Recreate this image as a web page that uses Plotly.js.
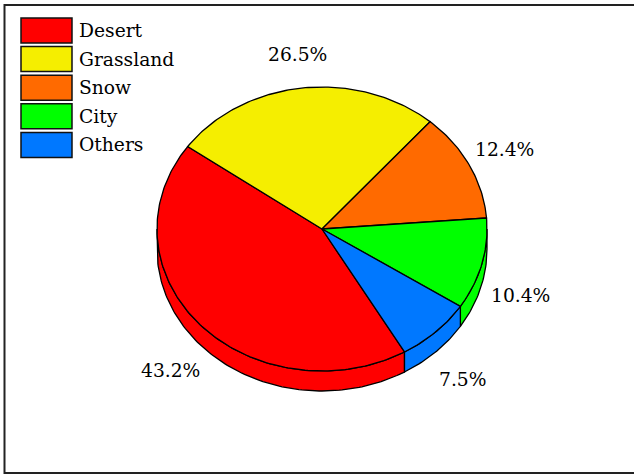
<!DOCTYPE html>
<html>
<head>
<meta charset="utf-8">
<script src="https://cdn.plot.ly/plotly-3.0.1.min.js"></script>
<style>html,body{margin:0;padding:0;background:#fff;}#chart{width:634px;height:475px;}</style>
</head>
<body>
<div id="chart"></div>
<script>
// ---- data ----
const categories = ["Desert", "Grassland", "Snow", "City", "Others"];
const values = [43.2, 26.5, 12.4, 10.4, 7.5];
const colors = ["#FF0000", "#F5EE00", "#FF6A00", "#00FF00", "#0078FF"];

// ---- geometry (layout constants) ----
const W = 634, H = 475;
const CX = 322, CY = 229, RX = 165, RY = 142, DEPTH = 20;
const START = 150;       // degrees clockwise from top where first slice begins
const FONT = "DejaVu Serif";
const FS = 18.7;

const total = values.reduce((a, b) => a + b, 0);
function pt(deg, dy) {
  const t = deg * Math.PI / 180;
  return [CX + RX * Math.sin(t), CY - RY * Math.cos(t) + (dy || 0)];
}
function arc(a0, a1, dy) {
  const n = Math.max(2, Math.ceil(Math.abs(a1 - a0) / 1));
  const xs = [], ys = [];
  for (let i = 0; i <= n; i++) {
    const p = pt(a0 + (a1 - a0) * i / n, dy);
    xs.push(p[0]); ys.push(p[1]);
  }
  return [xs, ys];
}

const walls = [];
const tops = [];
const annotations = [];
let acc = START;
values.forEach((v, i) => {
  const a0 = acc, a1 = acc + v / total * 360;
  acc = a1;
  [[90, 270], [450, 630]].forEach(([lo, hi]) => {
    const w0 = Math.max(a0, lo), w1 = Math.min(a1, hi);
    if (w1 > w0) {
      const top = arc(w0, w1, 0), bot = arc(w1, w0, DEPTH);
      walls.push({
        type: "scatter", mode: "lines", fill: "toself",
        x: top[0].concat(bot[0], [top[0][0]]),
        y: top[1].concat(bot[1], [top[1][0]]),
        fillcolor: colors[i], line: {color: "#000", width: 1.3},
        hoverinfo: "skip", showlegend: false
      });
    }
  });
  const a = arc(a0, a1, 0);
  tops.push({
    type: "scatter", mode: "lines", fill: "toself", name: categories[i],
    x: [CX].concat(a[0], [CX]), y: [CY].concat(a[1], [CY]),
    fillcolor: colors[i], line: {color: "#000", width: 1.3},
    hoverinfo: "skip", showlegend: false
  });
  const mid = (a0 + a1) / 2, t = mid * Math.PI / 180;
  const lp = pt(mid, 0);
  const lx = CX + (lp[0] - CX) * 1.24;
  const ly = CY + (lp[1] - CY) * 1.24 + (Math.cos(t) < 0 ? DEPTH + 3 : 0);
  annotations.push({
    x: lx, y: ly, xref: "x", yref: "y", showarrow: false,
    text: v.toFixed(1) + "%", font: {family: FONT, size: FS, color: "#000"},
    xanchor: "center", yanchor: "middle"
  });
});

const shapes = [];
categories.forEach((c, i) => {
  const y0 = 18 + i * 28.6;
  shapes.push({type: "rect", xref: "x", yref: "y", x0: 21, x1: 72, y0: y0, y1: y0 + 25,
    fillcolor: colors[i], line: {color: "#111", width: 1.5}});
  annotations.push({x: 77, y: y0 + 12.5, xref: "x", yref: "y", showarrow: false,
    text: c, xanchor: "left", yanchor: "middle",
    font: {family: FONT, size: FS, color: "#000"}});
});
shapes.push({type: "rect", xref: "x", yref: "y", x0: 4.5, x1: 650, y0: 5, y1: 473,
  line: {color: "#222", width: 2}, fillcolor: "rgba(0,0,0,0)"});

const layout = {
  width: W, height: H,
  margin: {l: 0, r: 0, t: 0, b: 0},
  paper_bgcolor: "#fff", plot_bgcolor: "#fff",
  font: {family: FONT},
  xaxis: {range: [0, W], visible: false, fixedrange: true},
  yaxis: {range: [H, 0], visible: false, fixedrange: true},
  showlegend: false,
  shapes: shapes, annotations: annotations
};
Plotly.newPlot("chart", walls.concat(tops), layout, {staticPlot: true, displayModeBar: false});
</script>
</body>
</html>
